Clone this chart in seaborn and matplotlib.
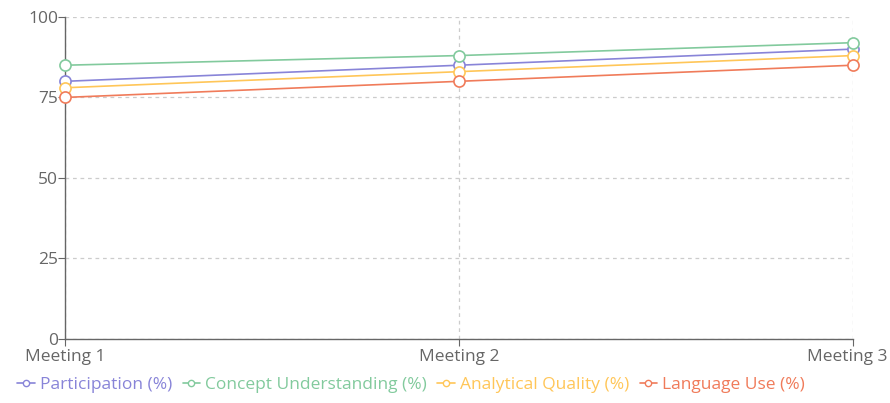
import pandas as pd
import matplotlib.pyplot as plt
import matplotlib.transforms as mtransforms
import seaborn as sns

# ── Data ─────────────────────────────────────────────────────
meetings = ['Meeting 1', 'Meeting 2', 'Meeting 3']
participation = [80, 85, 90]
concept = [85, 88, 92]
analytical = [78, 83, 88]
language = [75, 80, 85]

series_names = ['Participation (%)', 'Concept Understanding (%)',
                'Analytical Quality (%)', 'Language Use (%)']
COLORS = ['#8884d8', '#82ca9d', '#ffc658', '#f07b5a']

df = pd.DataFrame({
    'Meeting': meetings * 4,
    'Score': participation + concept + analytical + language,
    'Series': [s for s in series_names for _ in meetings],
})

# ── Style ────────────────────────────────────────────────────
sns.set_style('white')
plt.rcParams['font.family'] = ['Open Sans', 'DejaVu Sans']

fig = plt.figure(figsize=(8.9, 4.03), dpi=100)
ax = fig.add_axes([0.073, 0.159, 0.885, 0.799])

sns.lineplot(data=df, x='Meeting', y='Score', hue='Series', hue_order=series_names,
             palette=COLORS, marker='o', markersize=8, markerfacecolor='white',
             markeredgewidth=1.2, linewidth=1.2, ax=ax, legend=False, sort=False)

# seaborn paints marker edges white -> give them the line colour
for line in ax.lines:
    line.set_markeredgecolor(line.get_color())
    line.set_clip_on(False)
    line.set_zorder(3)

ax.set_xlim(0, 2)
ax.set_ylim(0, 100)
ax.set_yticks([0, 25, 50, 75, 100])
ax.set_xlabel('')
ax.set_ylabel('')

ax.grid(True, linestyle=(0, (3, 3)), color='#cccccc', linewidth=0.9)
for side in ['top', 'right']:
    ax.spines[side].set_visible(False)
for side in ['left', 'bottom']:
    ax.spines[side].set_color('#666666')
    ax.spines[side].set_linewidth(1)
ax.tick_params(axis='both', colors='#666666', labelsize=12.5, length=5,
               direction='out', left=True, bottom=True)
ax.tick_params(axis='y', pad=0)
ax.tick_params(axis='x', pad=2)

# keep the last category label inside the figure
last = ax.get_xticklabels()[-1]
last.set_horizontalalignment('right')
last.set_transform(last.get_transform() +
                   mtransforms.ScaledTranslation(0.35, 0, fig.dpi_scale_trans))

# ── Legend ───────────────────────────────────────────────────
handles = [plt.Line2D([], [], color=c, marker='o', markersize=4.5,
                      markerfacecolor='white', linewidth=1.2) for c in COLORS]
fig.legend(handles, series_names, loc='lower center', ncol=4, frameon=False,
           bbox_to_anchor=(0.462, -0.015), fontsize=12.5, handlelength=1.0,
           handletextpad=0.3, columnspacing=0.6, labelcolor='linecolor')

plt.savefig('out.png', dpi=100)
plt.close()
